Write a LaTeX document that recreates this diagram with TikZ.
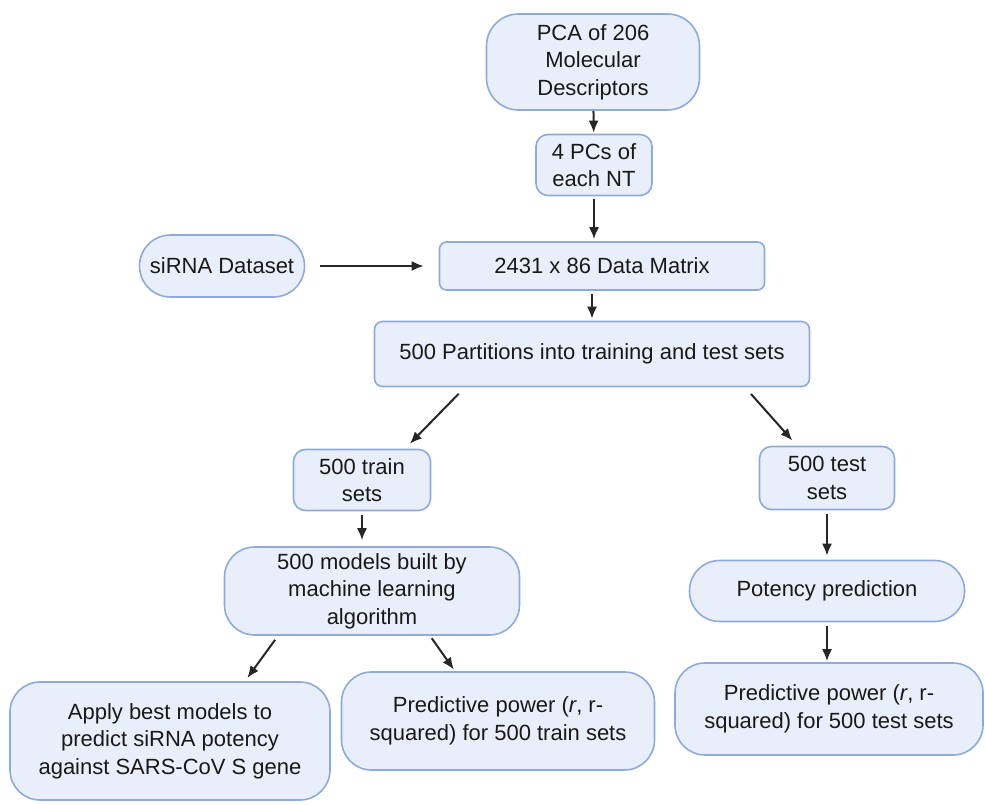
\documentclass[tikz,border=0pt]{standalone}
\usepackage{fontspec}
\setmainfont{Liberation Sans}
\usetikzlibrary{arrows.meta}
\definecolor{boxfill}{HTML}{E9EFFA}
\definecolor{boxline}{HTML}{8EAADB}
\tikzset{
  stepbox/.style={draw=boxline, fill=boxfill, line width=1.6pt, align=center,
    inner sep=0pt, text=black!90, font=\fontsize{22}{27.5}\selectfont},
  flow/.style={-{Latex[length=12pt,width=10pt]}, line width=2pt, black!85},
}
\begin{document}
\begin{tikzpicture}[x=1pt,y=-1pt]
            \useasboundingbox (0,0) rectangle (985,805);
            \node [stepbox, minimum width=213, minimum height=96, rounded corners=32] (pca) at (593,62) {PCA of 206\\Molecular\\Descriptors};
            \node [stepbox, minimum width=116, minimum height=61, rounded corners=12] (pcs) at (594,165) {4 PCs of\\each NT};
            \node [stepbox, minimum width=165, minimum height=62, rounded corners=31] (sirna) at (222,266) {siRNA Dataset};
            \node [stepbox, minimum width=325, minimum height=48, rounded corners=7] (matrix) at (602,266) {2431 x 86 Data Matrix};
            \node [stepbox, minimum width=435, minimum height=65, rounded corners=8] (part) at (592,354) {500 Partitions into training and test sets};
            \node [stepbox, minimum width=137, minimum height=61, rounded corners=12] (train) at (362,480) {500 train\\sets};
            \node [stepbox, minimum width=135, minimum height=63, rounded corners=12] (test) at (827,478) {500 test\\sets};
            \node [stepbox, minimum width=295, minimum height=88, rounded corners=30] (models) at (372,591) {500 models built by\\machine learning\\algorithm};
            \node [stepbox, minimum width=275, minimum height=61, rounded corners=30] (potency) at (827,591) {Potency prediction};
            \node [stepbox, minimum width=320, minimum height=118, rounded corners=30] (apply) at (170,741) {Apply best models to\\predict siRNA potency\\against SARS-CoV S gene};
            \node [stepbox, minimum width=313, minimum height=98, rounded corners=30] (predtrain) at (498,721) {Predictive power (\textit{r}, r-\\squared) for 500 train sets};
            \node [stepbox, minimum width=308, minimum height=92, rounded corners=30] (predtest) at (829,709) {Predictive power (\textit{r}, r-\\squared) for 500 test sets};
            % connectors
            \draw [flow, shorten >=1pt] (pca) -- (pcs);
            \draw [flow, shorten <=3pt, shorten >=2pt] (pcs) -- (pcs |- matrix.north);
            \draw [flow, shorten <=15pt, shorten >=15pt] (sirna) -- (matrix);
            \draw [flow, shorten <=3pt, shorten >=2pt] (matrix.south -| part) -- (part);
            \draw [flow, shorten <=9pt, shorten >=7pt] ([xshift=-127]part.south) -- ([xshift=43]train.north);
            \draw [flow, shorten <=9pt, shorten >=7pt] ([xshift=153]part.south) -- ([xshift=-30]test.north);
            \draw [flow, shorten <=4pt, shorten >=6pt] (train) -- (train |- models.north);
            \draw [flow, shorten <=4pt, shorten >=4pt] (test) -- (potency);
            \draw [flow, shorten <=5pt, shorten >=4pt] ([xshift=-94]models.south) -- ([xshift=75]apply.north);
            \draw [flow, shorten <=3pt, shorten >=2pt] ([xshift=58]models.south) -- ([xshift=-43]predtrain.north);
            \draw [flow, shorten <=4pt, shorten >=1pt] (potency) -- (potency |- predtest.north);
\end{tikzpicture}
\end{document}
